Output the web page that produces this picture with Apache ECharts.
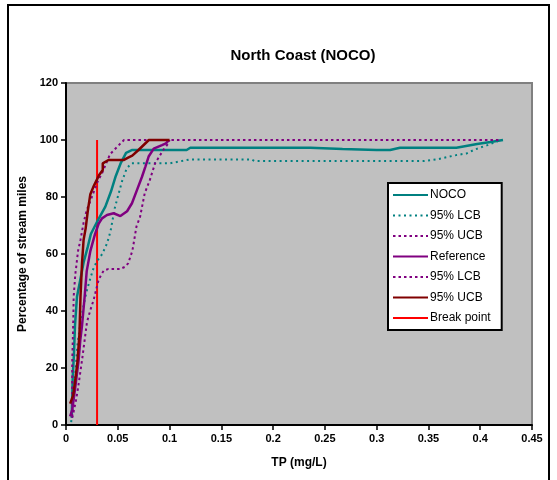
<!DOCTYPE html>
<html>
<head>
<meta charset="utf-8">
<script src="https://cdn.jsdelivr.net/npm/echarts@6/dist/echarts.min.js"></script>
<style>html,body{margin:0;padding:0;background:#fff;}#c{width:557px;height:480px;}</style>
</head>
<body>
<div id="c"></div>
<script>
var seriesNames = ['NOCO', 'NOCO 95% LCB', 'NOCO 95% UCB', 'Reference', 'Reference 95% LCB', 'Reference 95% UCB', 'Break point'];
var legendLabels = ['NOCO', '95% LCB', '95% UCB', 'Reference', '95% LCB', '95% UCB', 'Break point'];
var xTicks = [0, 0.05, 0.1, 0.15, 0.2, 0.25, 0.3, 0.35, 0.4, 0.45];
var yTicks = [0, 20, 40, 60, 80, 100, 120];

var noco = [[0.0055,2.5],[0.0065,17],[0.0077,25],[0.0087,35],[0.0106,45],[0.0138,51],[0.017,57],[0.021,62.5],[0.024,67],[0.031,72],[0.038,76.6],[0.0435,82],[0.048,87.3],[0.053,92],[0.058,95.5],[0.064,96.5],[0.1165,96.5],[0.12,97.3],[0.236,97.3],[0.267,96.8],[0.3,96.5],[0.313,96.5],[0.3225,97.3],[0.377,97.3],[0.397,98.6],[0.41,99.3],[0.422,100]];
var nocoLCB = [[0.005,1],[0.007,8],[0.009,18],[0.011,28],[0.014,36],[0.017,42],[0.02,47],[0.0235,51.5],[0.027,55.5],[0.031,58],[0.035,60],[0.0396,63.7],[0.043,68],[0.047,76],[0.054,85.4],[0.0586,90],[0.063,91.8],[0.1,91.8],[0.12,93.2],[0.179,93.2],[0.182,92.6],[0.345,92.6],[0.358,93.2],[0.377,94.7],[0.387,95.3],[0.395,96.7],[0.407,98.2],[0.42,100]];
var nocoUCB = [[0.006,3],[0.006,15],[0.006,22],[0.007,36],[0.0074,45],[0.009,53],[0.0097,55],[0.0116,61],[0.014,65],[0.017,71],[0.02,75.4],[0.025,80],[0.03,85],[0.035,88.5],[0.0425,95],[0.051,98.2],[0.056,100],[0.42,100]];
var reference = [[0.004,3],[0.006,5.3],[0.009,13.4],[0.0122,22.8],[0.0138,29.8],[0.0155,35],[0.018,45],[0.02,54],[0.0235,61],[0.028,67],[0.0316,70.7],[0.0348,72.5],[0.0396,73.7],[0.046,74.3],[0.0525,73.3],[0.059,75],[0.0637,77.8],[0.0686,82.5],[0.0734,87.1],[0.0766,90.6],[0.0798,94.2],[0.0847,97],[0.0927,98.2],[0.0965,98.8],[0.0995,100]];
var referenceLCB = [[0.006,2.5],[0.0074,4.7],[0.0097,8.8],[0.0116,12.9],[0.0155,22.8],[0.017,27],[0.0203,36.2],[0.0235,40.3],[0.0267,43.9],[0.031,50.3],[0.033,52],[0.0364,54.2],[0.0406,54.7],[0.052,54.7],[0.057,55.5],[0.06,56.7],[0.064,61],[0.065,63],[0.068,69.6],[0.0715,73],[0.076,81.3],[0.081,86],[0.086,91.8],[0.094,96.5],[0.0988,98.8],[0.1,100]];
var referenceUCB = [[0.004,7.5],[0.007,10.5],[0.009,16],[0.011,22],[0.013,32],[0.014,45],[0.0155,57],[0.017,65],[0.019,69],[0.021,75],[0.0235,81],[0.027,84],[0.032,87.7],[0.0355,89.5],[0.0355,91.8],[0.041,93],[0.056,93],[0.06,93.8],[0.064,94.5],[0.07,96.5],[0.08,100],[0.1,100]];
var breakPoint = [[0.03,0],[0.03,100]];

var seriesData = [noco, nocoLCB, nocoUCB, reference, referenceLCB, referenceUCB, breakPoint];
var styles = [
  {color:'#008080', width:2.5, type:'solid'},
  {color:'#008080', width:2, type:[2,3.5]},
  {color:'#800080', width:2, type:[2.5,3]},
  {color:'#800080', width:2.5, type:'solid'},
  {color:'#800080', width:2, type:[2.5,3]},
  {color:'#800000', width:2.5, type:'solid'},
  {color:'#FF0000', width:2, type:'solid'}
];

var series = seriesNames.map(function(n, i){
  return {
    name: n, type: 'line', data: seriesData[i], showSymbol: false, symbol: 'none',
    smooth: false, animation: false,
    lineStyle: {color: styles[i].color, width: styles[i].width, type: styles[i].type},
    itemStyle: {color: styles[i].color},
    z: i === 6 ? 1 : 2
  };
});

var font = '"Liberation Sans", Arial, sans-serif';
var chart = echarts.init(document.getElementById('c'), null, {renderer:'canvas'});
chart.setOption({
  animation: false,
  backgroundColor: '#fff',
  title: {
    text: 'North Coast (NOCO)', left: 298, top: 43, textAlign: 'center',
    textStyle: {fontFamily: font, fontSize: 15, fontWeight: 'bold', color: '#000'}
  },
  graphic: [{
    type: 'rect', shape: {x: 8, y: 5, width: 541, height: 490},
    style: {fill: null, stroke: '#000', lineWidth: 2}, silent: true, z: 100
  }],
  grid: {
    left: 66, right: 25, top: 83, bottom: 55, show: true,
    backgroundColor: '#C0C0C0', borderColor: '#808080', borderWidth: 2
  },
  legend: {
    left: 388, top: 183, orient: 'vertical',
    data: seriesNames,
    formatter: function(name){ return legendLabels[seriesNames.indexOf(name)]; },
    backgroundColor: '#fff', borderColor: '#000', borderWidth: 2,
    padding: [6, 11, 6, 4], itemWidth: 35, itemHeight: 12, itemGap: 8.5,
    itemStyle: {opacity: 0},
    textStyle: {fontFamily: font, fontSize: 12, color: '#000', padding: [0,0,0,-3]},
    selectedMode: false
  },
  xAxis: {
    type: 'value', min: xTicks[0], max: xTicks[xTicks.length-1], interval: xTicks[1]-xTicks[0],
    name: 'TP (mg/L)', nameLocation: 'middle', nameGap: 32,
    nameTextStyle: {fontFamily: font, fontSize: 12, fontWeight: 'bold', color: '#000'},
    axisLine: {show: true, lineStyle: {color: '#000', width: 2}},
    axisTick: {show: true, length: 5, lineStyle: {color: '#000', width: 1.5}},
    axisLabel: {fontFamily: font, fontSize: 11, fontWeight: 'bold', color: '#000', margin: 8},
    splitLine: {show: false}
  },
  yAxis: {
    type: 'value', min: yTicks[0], max: yTicks[yTicks.length-1], interval: yTicks[1]-yTicks[0],
    name: 'Percentage of stream miles', nameLocation: 'middle', nameGap: 27,
    nameTextStyle: {fontFamily: font, fontSize: 12, fontWeight: 'bold', color: '#000'},
    axisLine: {show: true, lineStyle: {color: '#000', width: 2}},
    axisTick: {show: true, length: 5, lineStyle: {color: '#000', width: 1.5}},
    axisLabel: {fontFamily: font, fontSize: 11, fontWeight: 'bold', color: '#000', margin: 8},
    splitLine: {show: false}
  },
  series: series
});
</script>
</body>
</html>
